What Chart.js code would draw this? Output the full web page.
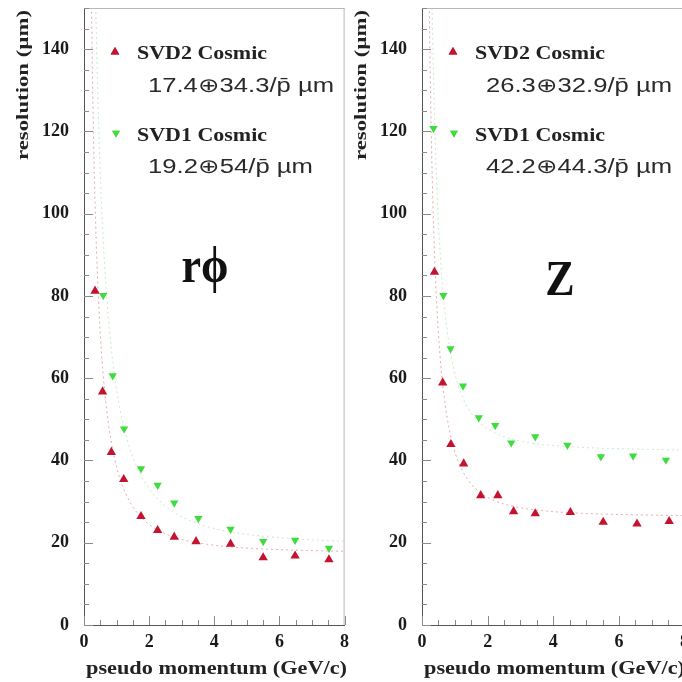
<!DOCTYPE html>
<html>
<head>
<meta charset="utf-8">
<script src="https://cdn.jsdelivr.net/npm/chart.js@4.4.1/dist/chart.umd.min.js"></script>
<style>
  html, body { margin: 0; padding: 0; background: #fff; overflow: hidden; }
  #wrap { position: relative; width: 682px; height: 682px; overflow: hidden; background: #fff; }
  canvas { position: absolute; top: 0; }
  #cRphi { left: 0; }
  #cZ { left: 338px; }
</style>
</head>
<body>
<div id="wrap">
  <canvas id="cRphi" width="350" height="682"></canvas>
  <canvas id="cZ" width="352" height="682"></canvas>
</div>
<script>
// ---- r-phi resolution vs pseudo momentum ----
const rphiSVD2P   = [0.34, 0.57, 0.84, 1.22, 1.75, 2.26, 2.77, 3.44, 4.50, 5.50, 6.48, 7.52];
const rphiSVD2Res = [81.2, 56.7, 42.0, 35.4, 26.4, 23.0, 21.4, 20.3, 19.7, 16.4, 16.8, 15.9];
const rphiSVD1P   = [0.59, 0.88, 1.23, 1.75, 2.26, 2.77, 3.51, 4.50, 5.50, 6.48, 7.52];
const rphiSVD1Res = [80.1, 60.6, 47.7, 38.0, 34.0, 29.7, 25.9, 23.3, 20.3, 20.6, 18.7];

// ---- z resolution vs pseudo momentum ----
const zSVD2P   = [0.38, 0.63, 0.88, 1.27, 1.79, 2.31, 2.79, 3.45, 4.52, 5.52, 6.55, 7.53];
const zSVD2Res = [85.8, 58.9, 43.9, 39.2, 31.5, 31.5, 27.6, 27.1, 27.4, 25.0, 24.6, 25.2];
const zSVD1P   = [0.35, 0.65, 0.87, 1.25, 1.73, 2.23, 2.72, 3.45, 4.43, 5.45, 6.43, 7.43];
const zSVD1Res = [120.7, 80.1, 67.2, 58.1, 50.4, 48.5, 44.3, 45.8, 43.7, 40.9, 41.1, 40.1];

// fit parameters (constant term, momentum term) printed in each legend
const rphiSVD2Fit = [17.4, 34.3];
const rphiSVD1Fit = [19.2, 54];
const zSVD2Fit    = [26.3, 32.9];
const zSVD1Fit    = [42.2, 44.3];

// axis ticks and labels
const xTickValues = [0, 2, 4, 6, 8];
const yTickValues = [0, 20, 40, 60, 80, 100, 120, 140];
const xTitle = 'pseudo momentum (GeV/c)';
const yTitle = 'resolution (\u00b5m)';
const seriesNames = ['SVD2 Cosmic', 'SVD1 Cosmic'];
const panelNames = ['r\u03d5', 'Z'];

const RED = '#c4122f';
const GREEN = '#3fdc3f';
const SERIF = '"Liberation Serif", "DejaVu Serif", serif';
const SANS = '"Liberation Sans", Arial, sans-serif';

// fit curve sigma(p) = a (+) b/p, sampled over the momentum range
function fitCurve(par) {
  const pts = [];
  for (let p = 0.15; p <= 8.0001; p += 0.02) {
    pts.push({ x: p, y: Math.sqrt(par[0] * par[0] + (par[1] / p) * (par[1] / p)) });
  }
  return pts;
}
function toPoints(xs, ys) { return xs.map((x, i) => ({ x: x, y: ys[i] })); }
function fitLabel(par) {
  return par[0] + '\u2295' + par[1] + '/p\u0304 \u00b5m';
}

// draw text stretched horizontally to a given width
function stretchText(ctx, str, x, y, font, width, sy) {
  ctx.save();
  ctx.font = font;
  const w = ctx.measureText(str).width;
  const sx = width ? width / w : 1;
  ctx.translate(x, y);
  ctx.scale(sx, sy || 1);
  ctx.textAlign = 'left';
  ctx.textBaseline = 'alphabetic';
  ctx.fillText(str, 0, 0);
  ctx.restore();
}

const decorPlugin = {
  id: 'panelDecor',
  afterDatasetsDraw(chart, args, o) {
    const ctx = chart.ctx;
    const a = chart.chartArea;
    const xs = chart.scales.x, ys = chart.scales.y;
    const L = a.left;

    ctx.save();
    // frame (top and right)
    ctx.strokeStyle = '#b8b8b8';
    ctx.lineWidth = 1;
    ctx.beginPath();
    ctx.moveTo(L, a.top + 0.5);
    ctx.lineTo(a.right, a.top + 0.5);
    if (o.rightFrame) {
      ctx.moveTo(a.right - 0.5, a.top);
      ctx.lineTo(a.right - 0.5, a.bottom);
    }
    ctx.stroke();

    // inner tick marks
    ctx.strokeStyle = '#8a8a8a';
    ctx.beginPath();
    for (let v = 0; v <= 150; v += 5) {
      const py = Math.round(ys.getPixelForValue(v)) + 0.5;
      const len = (v % 20 === 0) ? 9 : 5;
      ctx.moveTo(L, py);
      ctx.lineTo(L + len, py);
    }
    for (let v = 0; v <= 8; v += 0.5) {
      const px = Math.round(xs.getPixelForValue(v)) + 0.5;
      const len = (v % 2 === 0) ? 9 : 5;
      ctx.moveTo(px, a.bottom);
      ctx.lineTo(px, a.bottom - len);
    }
    ctx.stroke();

    // legend
    const helpers = Chart.helpers;
    ctx.fillStyle = RED;
    ctx.strokeStyle = RED;
    helpers.drawPoint(ctx, { pointStyle: 'triangle', radius: 5, rotation: 0, borderWidth: 0 }, L + 31, 52);
    ctx.fill();
    ctx.fillStyle = GREEN;
    ctx.strokeStyle = GREEN;
    helpers.drawPoint(ctx, { pointStyle: 'triangle', radius: 4.5, rotation: 180, borderWidth: 0 }, L + 32, 133);
    ctx.fill();

    ctx.fillStyle = '#222';
    stretchText(ctx, seriesNames[0], L + 53, 59, 'bold 18px ' + SERIF, 130);
    stretchText(ctx, seriesNames[1], L + 53, 141, 'bold 18px ' + SERIF, 130);
    ctx.fillStyle = '#2a2a2a';
    stretchText(ctx, o.fit1, L + 64, 92, '20px ' + SANS, o.fit1W);
    stretchText(ctx, o.fit2, L + 64, 173, '20px ' + SANS, o.fit2W);

    // panel name
    ctx.fillStyle = '#111';
    ctx.save();
    ctx.font = 'bold 44px ' + SERIF;
    ctx.textAlign = 'center';
    ctx.textBaseline = 'alphabetic';
    ctx.translate(L + o.nameDx, o.nameY);
    ctx.scale(1, 1.15);
    ctx.fillText(o.name, 0, 0);
    ctx.restore();

    // axis titles
    ctx.fillStyle = '#222';
    stretchText(ctx, xTitle, L + 2, 674, 'bold 18px ' + SERIF, 261);
    ctx.save();
    ctx.font = 'bold 16px ' + SERIF;
    const tw = ctx.measureText(yTitle).width;
    ctx.translate(L - 60, 85);
    ctx.rotate(-Math.PI / 2);
    ctx.scale(150 / tw, 1);
    ctx.textAlign = 'center';
    ctx.textBaseline = 'middle';
    ctx.fillText(yTitle, 0, 0);
    ctx.restore();

    ctx.restore();
  }
};

function makePanel(id, d, opts) {
  const ctx = document.getElementById(id).getContext('2d');
  return new Chart(ctx, {
    type: 'scatter',
    data: {
      datasets: [
        { data: fitCurve(d.fit2), showLine: true, pointRadius: 0, borderWidth: 1,
          borderColor: 'rgba(90,200,90,0.35)', borderDash: [2, 3], tension: 0, order: 4 },
        { data: fitCurve(d.fit1), showLine: true, pointRadius: 0, borderWidth: 1,
          borderColor: 'rgba(200,60,80,0.45)', borderDash: [2, 3], tension: 0, order: 3 },
        { data: toPoints(d.p1, d.r1), pointStyle: 'triangle', pointRadius: 5.4,
          pointBackgroundColor: RED, pointBorderWidth: 0, pointBorderColor: RED, order: 2 },
        { data: toPoints(d.p2, d.r2), pointStyle: 'triangle', pointRotation: 180, pointRadius: 4.8,
          pointBackgroundColor: GREEN, pointBorderWidth: 0, pointBorderColor: GREEN, order: 1 }
      ]
    },
    options: {
      responsive: false,
      animation: false,
      events: [],
      layout: { padding: { top: 8, right: opts.padRight, left: 0, bottom: 0 } },
      plugins: {
        legend: { display: false },
        tooltip: { enabled: false },
        panelDecor: opts.decor
      },
      scales: {
        x: {
          type: 'linear', min: 0, max: 8,
          grid: { display: false, drawTicks: false },
          border: { display: true, color: '#555', width: 1 },
          afterFit(s) { s.height = 57; s.paddingLeft = 0; s.paddingRight = 0; },
          afterBuildTicks(s) { s.ticks = xTickValues.map(v => ({ value: v })); },
          ticks: { padding: 7, color: '#1a1a1a', font: { family: SERIF, size: 18, weight: 'bold' },
                   maxRotation: 0, autoSkip: false }
        },
        y: {
          type: 'linear', min: 0, max: 150,
          grid: { display: false, drawTicks: false },
          border: { display: true, color: '#555', width: 1 },
          afterFit(s) { s.width = 84; s.paddingTop = 0; s.paddingBottom = 0; },
          afterBuildTicks(s) { s.ticks = yTickValues.map(v => ({ value: v })); },
          ticks: { padding: 15, color: '#1a1a1a', font: { family: SERIF, size: 18, weight: 'bold' },
                   autoSkip: false }
        }
      }
    },
    plugins: [decorPlugin]
  });
}

makePanel('cRphi',
  { p1: rphiSVD2P, r1: rphiSVD2Res, p2: rphiSVD1P, r2: rphiSVD1Res, fit1: rphiSVD2Fit, fit2: rphiSVD1Fit },
  { padRight: 3.5,
    decor: { rightFrame: true, name: panelNames[0], nameDx: 121, nameY: 282,
             fit1: fitLabel(rphiSVD2Fit), fit1W: 186, fit2: fitLabel(rphiSVD1Fit), fit2W: 165 } });

makePanel('cZ',
  { p1: zSVD2P, r1: zSVD2Res, p2: zSVD1P, r2: zSVD1Res, fit1: zSVD2Fit, fit2: zSVD1Fit },
  { padRight: 1.6,
    decor: { rightFrame: false, name: panelNames[1], nameDx: 138, nameY: 295,
             fit1: fitLabel(zSVD2Fit), fit1W: 186, fit2: fitLabel(zSVD1Fit), fit2W: 186 } });
</script>
</body>
</html>
